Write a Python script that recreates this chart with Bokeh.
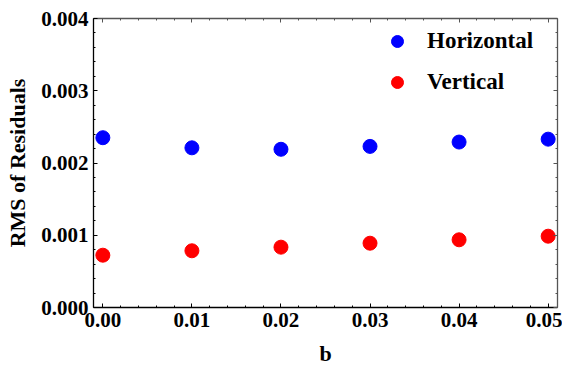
from bokeh.plotting import figure
from bokeh.models import (Range1d, LinearAxis, SingleIntervalTicker, PrintfTickFormatter,
                          CustomJSTickFormatter, Legend, LegendItem)
from bokeh.embed import file_html
from bokeh.resources import INLINE

b_values = [0.00, 0.01, 0.02, 0.03, 0.04, 0.05]
horizontal = [0.00235, 0.00221, 0.00219, 0.00223, 0.00229, 0.00233]
vertical = [0.000724, 0.000785, 0.000835, 0.00089, 0.000937, 0.000987]

FONT = "Liberation Serif"

p = figure(frame_width=464, frame_height=289, output_backend="svg", toolbar_location=None,
           x_range=Range1d(-0.00105, 0.05105), y_range=Range1d(0, 0.004),
           x_axis_location=None, y_axis_location=None,
           min_border_left=93, min_border_right=5, min_border_top=18, min_border_bottom=58)
p.grid.visible = False
p.outline_line_color = None
p.background_fill_color = "white"
p.border_fill_color = "white"


def make_axis(interval, fmt, labels=True, title=None, color="black"):
    formatter = PrintfTickFormatter(format=fmt) if labels else CustomJSTickFormatter(code="return ''")
    ax = LinearAxis(ticker=SingleIntervalTicker(interval=interval, num_minor_ticks=5),
                    formatter=formatter)
    ax.major_tick_in = 4
    ax.major_tick_out = 0
    ax.minor_tick_in = 2
    ax.minor_tick_out = 0
    ax.axis_line_color = color
    ax.axis_line_width = 1.3
    ax.major_tick_line_color = color
    ax.minor_tick_line_color = color
    if labels:
        ax.major_label_text_font = FONT
        ax.major_label_text_font_style = "bold"
        ax.major_label_text_font_size = "21px"
        ax.major_label_text_color = "black"
        ax.major_label_standoff = 5
    else:
        ax.major_label_standoff = 0
    if title:
        ax.axis_label = title
        ax.axis_label_text_font = FONT
        ax.axis_label_text_font_style = "bold"
        ax.axis_label_text_font_size = "22px"
        ax.axis_label_text_color = "black"
    return ax


xb = make_axis(0.01, "%.2f", True, "b")
xb.axis_label_standoff = 11
yl = make_axis(0.001, "%.3f", True, "RMS of Residuals")
yl.axis_label_standoff = 8
xt = make_axis(0.01, "%.2f", False, color="#555555")
yr = make_axis(0.001, "%.3f", False, color="#555555")
p.add_layout(xb, "below")
p.add_layout(yl, "left")
p.add_layout(xt, "above")
p.add_layout(yr, "right")

r_h = p.scatter(b_values, horizontal, size=14, color="#0000FF")
r_v = p.scatter(b_values, vertical, size=14, color="#FF0000")

legend = Legend(items=[LegendItem(label="Horizontal", renderers=[r_h]),
                       LegendItem(label="Vertical", renderers=[r_v])],
                location=(289, 210))
legend.glyph_width = 30
legend.glyph_height = 30
legend.spacing = 11
legend.padding = 0
legend.margin = 0
legend.label_standoff = 15
legend.border_line_color = None
legend.background_fill_alpha = 0
legend.label_text_font = FONT
legend.label_text_font_style = "bold"
legend.label_text_font_size = "23px"
legend.label_text_color = "black"
p.add_layout(legend, "center")

open("out.html", "w").write(file_html(p, INLINE))
